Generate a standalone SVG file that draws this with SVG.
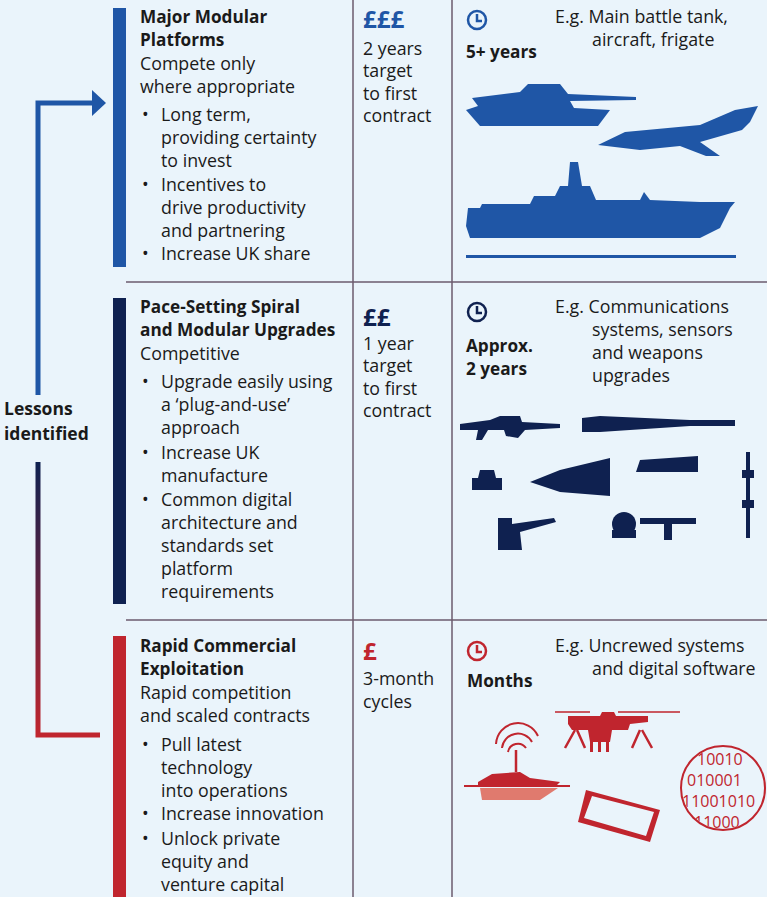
<svg xmlns="http://www.w3.org/2000/svg" width="767" height="897" viewBox="0 0 767 897">
<defs>
<linearGradient id="lg" x1="0" y1="462" x2="0" y2="735" gradientUnits="userSpaceOnUse">
<stop offset="0" stop-color="#0f2150"/><stop offset="1" stop-color="#c0252e"/>
</linearGradient>
<clipPath id="cc"><circle cx="723" cy="788" r="41"/></clipPath>
</defs>
<style>
text{font-family:"Open Sans","Liberation Sans",Arial,sans-serif;font-size:17.8px;fill:#1a1a1a}
.b{font-weight:bold;font-size:17.2px}
.big{font-size:24px}
.grid{stroke:#6b5b6e;stroke-width:1.5;fill:none}
.blue{fill:#1f56a6}.navy{fill:#0f2150}.red{fill:#c0252e}
.clk{fill:none;stroke-width:2.5}
.bin{font-size:16px;fill:#c0252e}
</style>
<rect width="767" height="897" fill="#eaf4fb"/>
<g id="grid">
<line class="grid" x1="353" y1="0" x2="353" y2="897"/>
<line class="grid" x1="452" y1="0" x2="452" y2="897"/>
<line class="grid" x1="126" y1="282" x2="767" y2="282"/>
<line class="grid" x1="126" y1="620" x2="767" y2="620"/>
</g>
<g id="connectors">
<path d="M38,395 V103 H96" fill="none" stroke="#1f56a6" stroke-width="5"/>
<path d="M92,90 L106,103 L92,116 Z" fill="#1f56a6"/>
<path d="M38,462 V735 H100" fill="none" stroke="url(#lg)" stroke-width="5"/>
</g>
<g id="lessons"><text class="b" x="4" y="415" style="font-size:17.5px">Lessons</text><text class="b" x="4" y="440" style="font-size:17.5px">identified</text></g>

<g id="row1">
<rect class="blue" x="113" y="8" width="13" height="259"/>
<text class="b" x="140" y="23">Major Modular</text><text class="b" x="140" y="46">Platforms</text>
<text x="140" y="70">Compete only</text><text x="140" y="93">where appropriate</text>
<text x="142" y="121">•</text><text x="161" y="121">Long term,</text><text x="161" y="144">providing certainty</text><text x="161" y="167">to invest</text>
<text x="142" y="191">•</text><text x="161" y="191">Incentives to</text><text x="161" y="214">drive productivity</text><text x="161" y="237">and partnering</text>
<text x="142" y="260">•</text><text x="161" y="260">Increase UK share</text>
<text class="b big" x="363" y="28" style="fill:#1f56a6">£££</text>
<text x="363" y="55">2 years</text><text x="363" y="77">target</text><text x="363" y="100">to first</text><text x="363" y="122">contract</text>
<circle class="clk" cx="477" cy="20" r="9" stroke="#1f56a6"/><path d="M477,14 V21 H482" class="clk" stroke="#1f56a6" stroke-width="2"/>
<text class="b" x="466" y="58">5+ years</text>
<text x="555" y="23">E.g. Main battle tank,</text><text x="592" y="46">aircraft, frigate</text>
<g class="blue">
<path d="M472,98 L520,92 L528,84 L560,84 L568,94 L636,97 L636,100 L570,101 L574,108 L610,110 L598,126 L480,126 L466,110 L478,106 Z"/>
<path d="M598,145 L625,132 L700,125 L735,110 L758,106 L750,122 L742,130 L700,142 L720,156 L706,156 L680,146 L640,150 Z"/>
<path d="M468,208 L480,208 L482,204 L530,204 L534,196 L555,196 L560,186 L568,186 L570,162 L578,162 L582,186 L590,186 L596,200 L640,200 L644,192 L650,200 L700,202 L735,202 L730,208 L720,228 L700,238 L500,238 L470,238 L466,226 Z"/>
<rect x="466" y="255" width="270" height="3"/>
</g>
</g>

<g id="row2">
<rect class="navy" x="113" y="298" width="13" height="306"/>
<text class="b" x="140" y="313">Pace-Setting Spiral</text><text class="b" x="140" y="336">and Modular Upgrades</text>
<text x="140" y="360">Competitive</text>
<text x="142" y="388">•</text><text x="161" y="388">Upgrade easily using</text><text x="161" y="411">a ‘plug-and-use’</text><text x="161" y="434">approach</text>
<text x="142" y="459">•</text><text x="161" y="459">Increase UK</text><text x="161" y="482">manufacture</text>
<text x="142" y="506">•</text><text x="161" y="506">Common digital</text><text x="161" y="529">architecture and</text><text x="161" y="552">standards set</text><text x="161" y="575">platform</text><text x="161" y="598">requirements</text>
<text class="b big" x="363" y="326" style="fill:#0f2150">££</text>
<text x="363" y="350">1 year</text><text x="363" y="372">target</text><text x="363" y="395">to first</text><text x="363" y="417">contract</text>
<circle class="clk" cx="477" cy="312" r="9" stroke="#0f2150"/><path d="M477,306 V313 H482" class="clk" stroke="#0f2150" stroke-width="2"/>
<text class="b" x="466" y="352">Approx.</text><text class="b" x="466" y="375">2 years</text>
<text x="555" y="313">E.g. Communications</text><text x="592" y="336">systems, sensors</text><text x="592" y="359">and weapons</text><text x="592" y="382">upgrades</text>
<g class="navy">
<path d="M460,424 L490,420 L500,416 L520,416 L522,422 L560,424 L560,428 L525,430 L518,438 L506,436 L504,430 L488,430 L482,440 L476,440 L478,430 L460,430 Z"/>
<path d="M582,418 L600,416 L690,420 L735,420 L735,426 L690,426 L600,432 L582,432 Z"/>
<path d="M472,478 L478,478 L480,470 L494,470 L496,478 L502,478 L502,490 L472,490 Z"/>
<path d="M530,482 L560,470 L610,458 L610,496 L560,492 Z"/>
<path d="M640,460 L698,456 L698,472 L636,472 Z"/>
<rect x="746" y="452" width="4" height="86"/><rect x="742" y="470" width="12" height="8"/><rect x="742" y="500" width="12" height="8"/>
<path d="M498,518 L512,518 L512,524 L554,518 L556,522 L520,532 L522,550 L498,550 Z"/>
<circle cx="624" cy="524" r="12"/><rect x="612" y="530" width="24" height="8"/>
<path d="M640,518 L696,518 L696,524 L672,524 L672,540 L664,540 L664,524 L640,524 Z"/>
</g>
</g>

<g id="row3">
<rect class="red" x="113" y="636" width="13" height="261"/>
<text class="b" x="140" y="652">Rapid Commercial</text><text class="b" x="140" y="675">Exploitation</text>
<text x="140" y="699">Rapid competition</text><text x="140" y="722">and scaled contracts</text>
<text x="142" y="751">•</text><text x="161" y="751">Pull latest</text><text x="161" y="774">technology</text><text x="161" y="797">into operations</text>
<text x="142" y="820">•</text><text x="161" y="820">Increase innovation</text>
<text x="142" y="845">•</text><text x="161" y="845">Unlock private</text><text x="161" y="868">equity and</text><text x="161" y="891">venture capital</text>
<text class="b big" x="363" y="660" style="fill:#c0252e">£</text>
<text x="363" y="685">3-month</text><text x="363" y="708">cycles</text>
<circle class="clk" cx="477" cy="651" r="9" stroke="#c0252e"/><path d="M477,645 V652 H482" class="clk" stroke="#c0252e" stroke-width="2"/>
<text class="b" x="467" y="687">Months</text>
<text x="555" y="652">E.g. Uncrewed systems</text><text x="592" y="675">and digital software</text>
<g class="red">
<path d="M568,716 L600,716 L602,712 L614,712 L616,716 L648,716 L648,722 L630,724 L628,730 L612,730 L610,742 L590,742 L588,730 L572,730 L568,724 Z"/>
<rect x="590" y="742" width="3" height="10"/><rect x="598" y="742" width="3" height="10"/><rect x="606" y="742" width="3" height="10"/>
<path d="M575,730 L565,748 M577,730 L585,748 M640,730 L632,748 M642,730 L652,748" stroke="#c0252e" stroke-width="2.5"/>
<path d="M555,712 L590,712 M618,712 L680,712" stroke="#c0252e" stroke-width="1.5"/>
<path d="M478,782 L492,774 L520,772 L530,778 L560,782 L556,786 L478,786 Z"/>
<line x1="516" y1="772" x2="516" y2="750" stroke="#c0252e" stroke-width="2.5"/>
<path d="M464,786 L570,786" stroke="#c0252e" stroke-width="2"/>
<path d="M480,788 L558,788 L540,800 L482,800 Z" fill="#e07a6e"/>
<path d="M508,752 A10,10 0 0 1 526,748 M502,748 A16,16 0 0 1 532,742 M496,744 A22,22 0 0 1 538,736" fill="none" stroke="#c0252e" stroke-width="2"/>
<path d="M586,790 L660,810 L650,842 L578,822 Z M592,796 L584,818 L646,836 L654,812 Z" fill-rule="evenodd"/>
</g>
<circle cx="723" cy="788" r="42" fill="none" stroke="#c0252e" stroke-width="2"/>
<g clip-path="url(#cc)">
<text class="bin" x="697" y="765">10010</text><text class="bin" x="687" y="786">010001</text><text class="bin" x="682" y="807">11001010</text><text class="bin" x="694" y="828">11000</text>
</g>
</g>
</svg>
